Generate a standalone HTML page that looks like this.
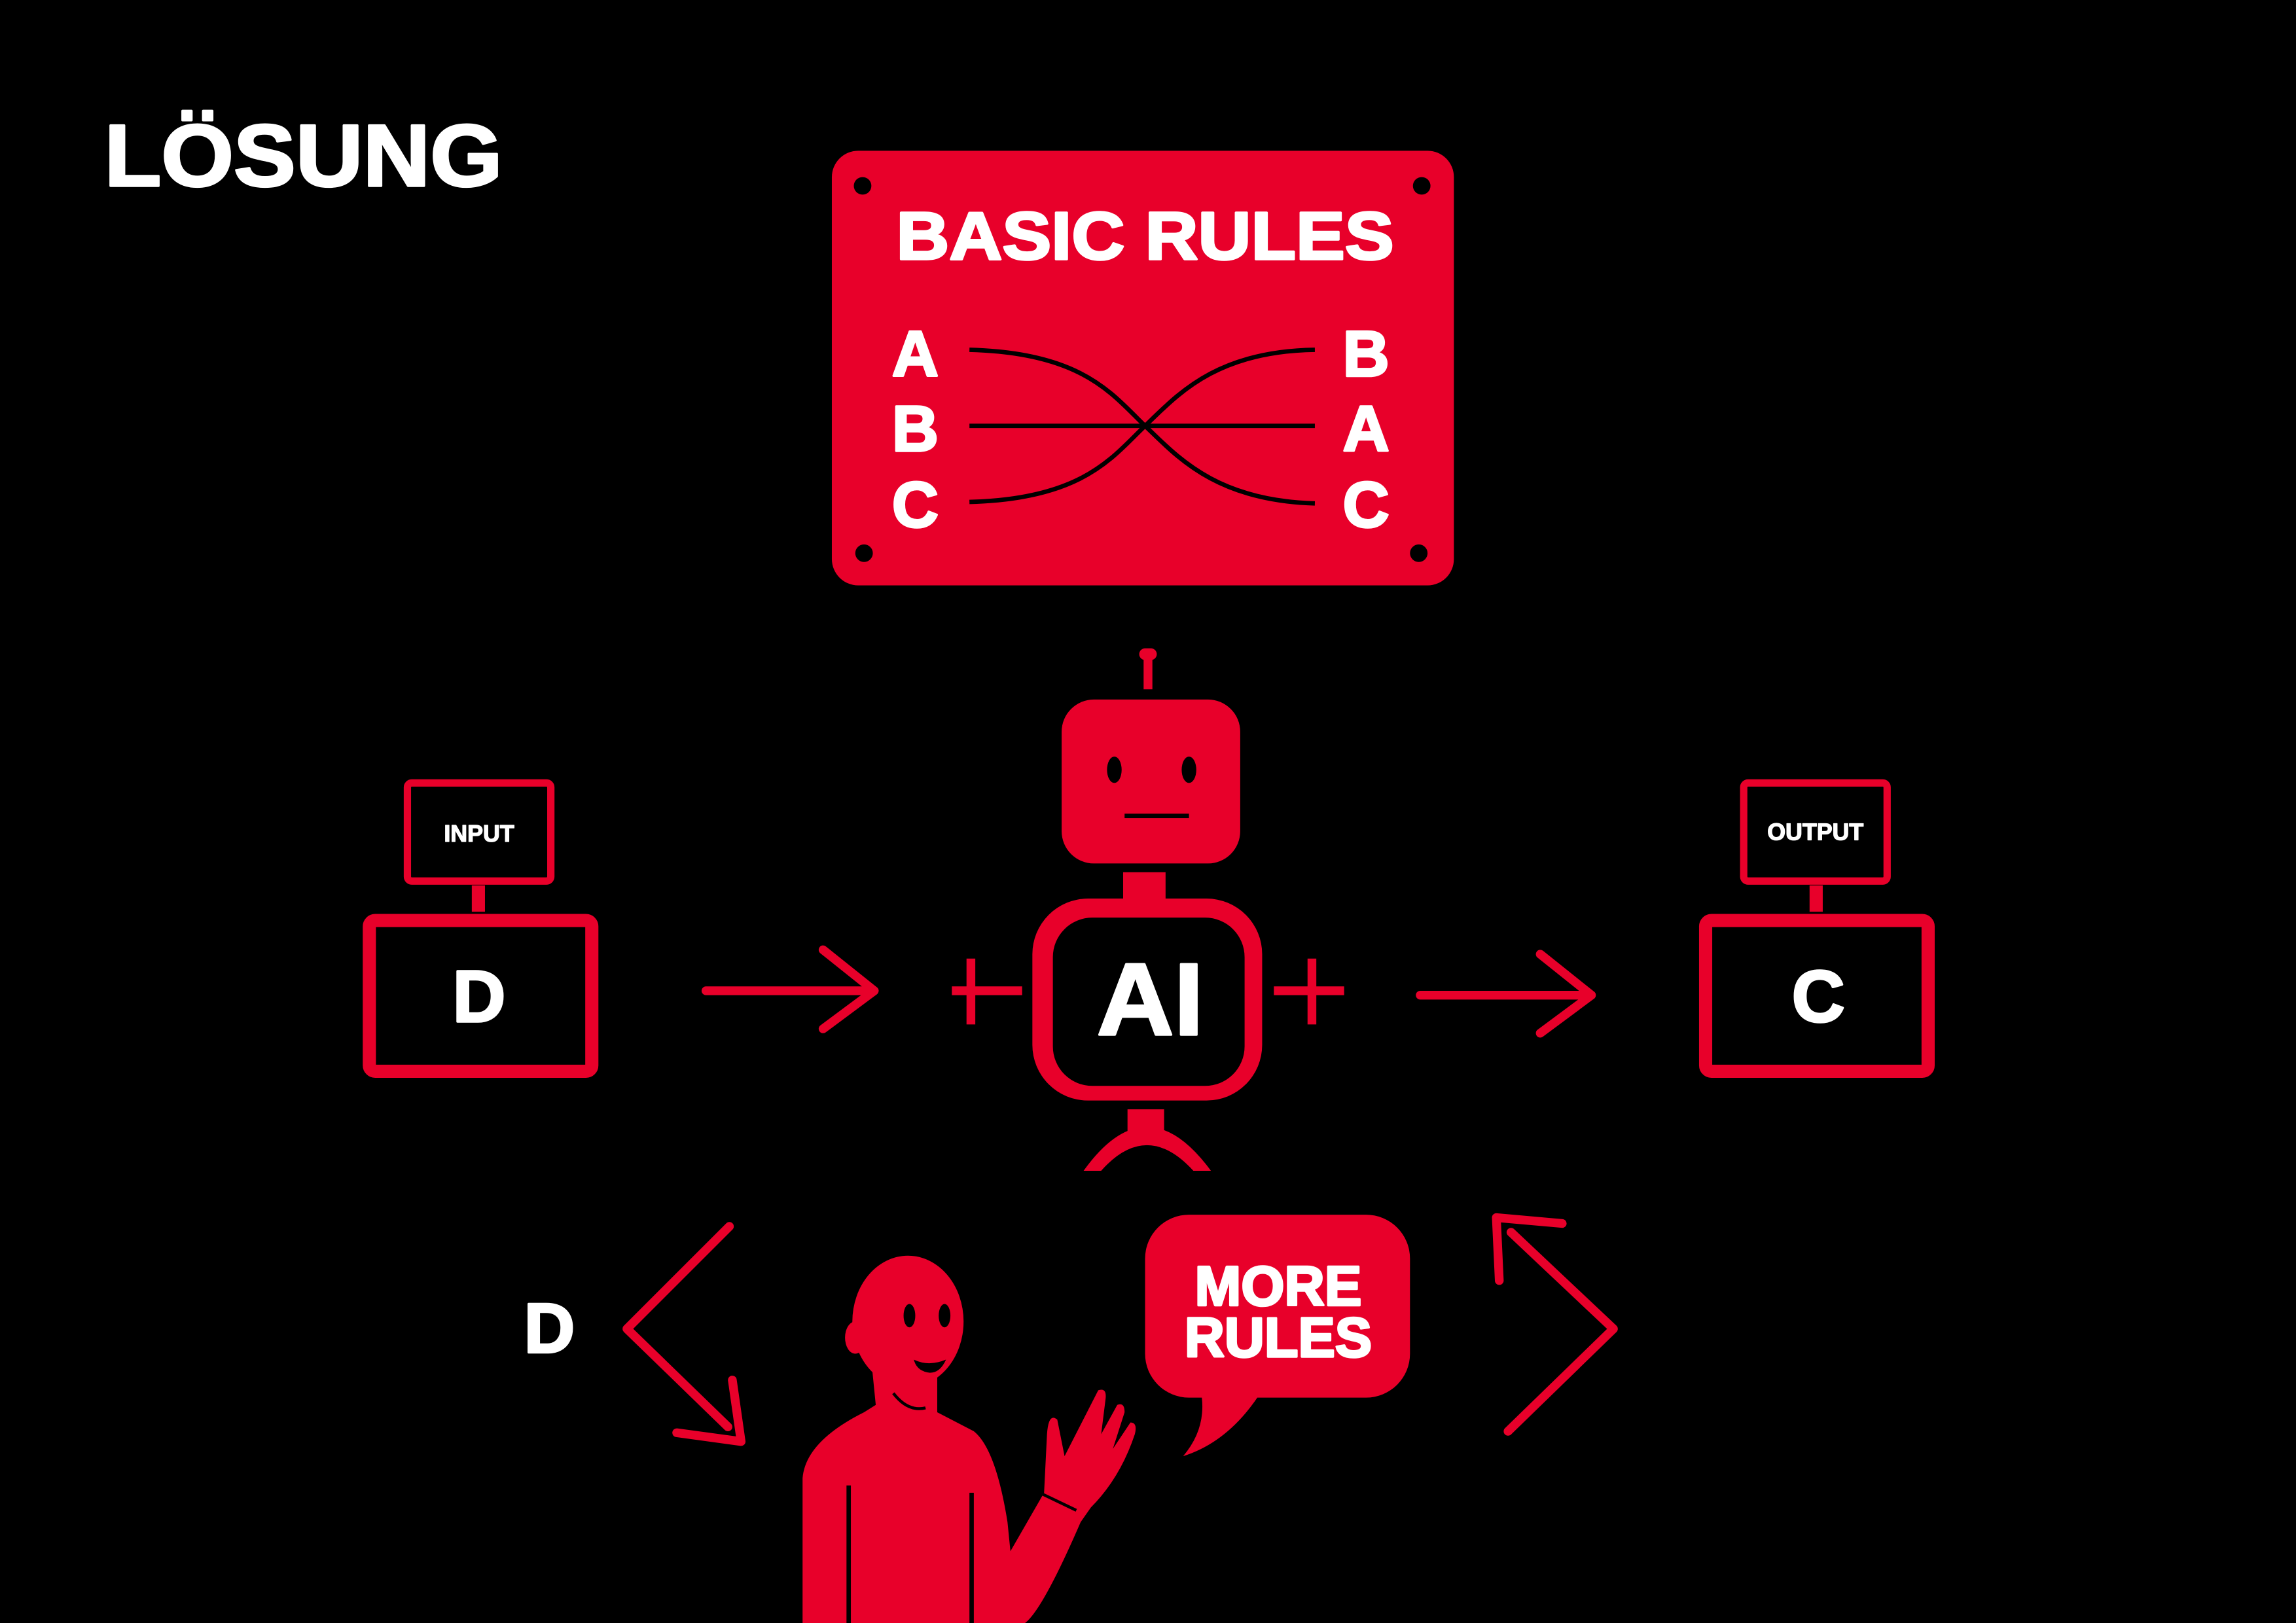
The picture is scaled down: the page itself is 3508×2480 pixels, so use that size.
<!DOCTYPE html>
<html><head><meta charset="utf-8"><style>
html,body{margin:0;padding:0;background:#000;}
svg{display:block;}
text{font-family:"Liberation Sans",sans-serif;font-weight:bold;fill:#fff;stroke:#fff;stroke-width:1.6;stroke-linejoin:round;}
</style></head><body>
<svg width="3508" height="2480" viewBox="0 0 1568 1109" xmlns="http://www.w3.org/2000/svg">
<rect width="1568" height="1109" fill="#000"/>
<text x="71" y="127" font-size="60" textLength="272" lengthAdjust="spacingAndGlyphs">LÖSUNG</text>

<!-- sign -->
<rect x="568" y="103" width="425" height="297" rx="18" fill="#e8002a"/>
<g fill="#000"><circle cx="589" cy="127" r="6"/><circle cx="971" cy="127" r="6"/><circle cx="590" cy="378" r="6"/><circle cx="969" cy="378" r="6"/></g>
<text x="612" y="177" font-size="46" textLength="340" lengthAdjust="spacingAndGlyphs">BASIC RULES</text>
<g font-size="44" text-anchor="middle">
<text x="625" y="257">A</text><text x="625" y="308">B</text><text x="625" y="360">C</text>
<text x="933" y="257">B</text><text x="933" y="308">A</text><text x="933" y="360">C</text>
</g>
<g stroke="#000" stroke-width="3" fill="none">
<path d="M662 239 C740 241 760 270 782 291 C804 312 830 342 898 344"/>
<path d="M662 343 C740 341 760 312 782 291 C804 270 830 240 898 239"/>
<path d="M662 291 L898 291"/>
</g>

<!-- robot -->
<g fill="#e8002a">
<rect x="778" y="443" width="12" height="8" rx="4"/>
<rect x="781" y="449" width="6" height="22"/>
<rect x="725" y="478" width="122" height="112" rx="22"/>
<rect x="767" y="596" width="29" height="18"/>
<rect x="705" y="614" width="157" height="138" rx="38"/>
<rect x="770" y="758" width="25" height="18"/>
<path d="M740 800 Q783 740 827 800 L815 800 Q783 765 752 800 Z"/>
<rect x="650" y="674" width="48" height="6"/><rect x="660" y="655" width="6" height="45"/>
<rect x="870" y="674" width="48" height="6"/><rect x="893" y="655" width="6" height="45"/>
</g>
<g fill="#000">
<ellipse cx="761" cy="526" rx="5" ry="9"/><ellipse cx="812" cy="526" rx="5" ry="9"/>
<rect x="768" y="556" width="44" height="3"/>
<rect x="719" y="627" width="131" height="115" rx="27"/>
</g>
<text x="749" y="707" font-size="70" textLength="73" lengthAdjust="spacingAndGlyphs">AI</text>

<!-- monitors -->
<g fill="none" stroke="#e8002a">
<rect x="278" y="535" width="98" height="67" rx="3" stroke-width="5"/>
<rect x="252" y="629" width="152" height="103" rx="4" stroke-width="9"/>
<rect x="1191" y="535" width="98" height="67" rx="3" stroke-width="5"/>
<rect x="1165" y="629" width="152" height="103" rx="4" stroke-width="9"/>
</g>
<rect x="322" y="605" width="9" height="18" fill="#e8002a"/>
<rect x="1236" y="605" width="9" height="18" fill="#e8002a"/>
<text x="327" y="575" font-size="16" text-anchor="middle" style="stroke-width:0.6">INPUT</text>
<text x="1240" y="574" font-size="16" text-anchor="middle" style="stroke-width:0.6">OUTPUT</text>
<text x="327" y="698" font-size="50" text-anchor="middle">D</text>
<text x="1242" y="698" font-size="50" text-anchor="middle">C</text>

<!-- arrows -->
<g stroke="#e8002a" stroke-width="6" fill="none" stroke-linecap="round" stroke-linejoin="round">
<path d="M482 677 L595 677 M562 649 L597 677 L562 703"/>
<path d="M970 680 L1085 680 M1052 652 L1087 680 L1052 706"/>
<path d="M498 838 L428 908 L497 975 M462 979 L506 985 L500 943"/>
<path d="M1030 978 L1102 908 L1032 842 M1024 875 L1022 832 L1067 836"/>
</g>
<text x="375" y="924" font-size="48" text-anchor="middle">D</text>

<!-- person -->
<g fill="#e8002a">
<ellipse cx="620" cy="903" rx="38" ry="45"/>
<ellipse cx="584" cy="914" rx="7" ry="11"/>
<path d="M595 930 L640 930 L640 965 L665 978 Q680 990 688 1040 L690 1060 L713 1020 L715 980 Q716 965 722 970 L727 995 L750 950 Q756 948 755 956 L752 980 L763 960 Q768 958 768 965 L760 990 L772 972 Q777 972 775 980 Q765 1010 745 1030 L738 1040 Q712 1100 700 1109 L548 1109 L548 1010 Q550 985 590 965 L598 960 Z"/>
<rect x="782" y="830" width="181" height="125" rx="30"/>
<path d="M820 950 Q825 975 808 995 Q840 985 862 950 Z"/>
</g>
<g fill="#000">
<ellipse cx="621" cy="899" rx="4" ry="8"/><ellipse cx="645" cy="899" rx="4" ry="8"/>
<path d="M624 929 Q634 934 646 929 Q642 938 635 938 Q626 937 624 929 Z"/>
<path d="M610 952 Q620 965 632 962" stroke="#000" stroke-width="2" fill="none"/>
<rect x="578" y="1015" width="3" height="94"/>
<rect x="662" y="1020" width="3" height="89"/>
<path d="M710 1020 L735 1032" stroke="#000" stroke-width="2"/>
</g>
<text x="816" y="892" font-size="38" textLength="114" lengthAdjust="spacingAndGlyphs">MORE</text>
<text x="809" y="927" font-size="38" textLength="128" lengthAdjust="spacingAndGlyphs">RULES</text>
</svg>
</body></html>
